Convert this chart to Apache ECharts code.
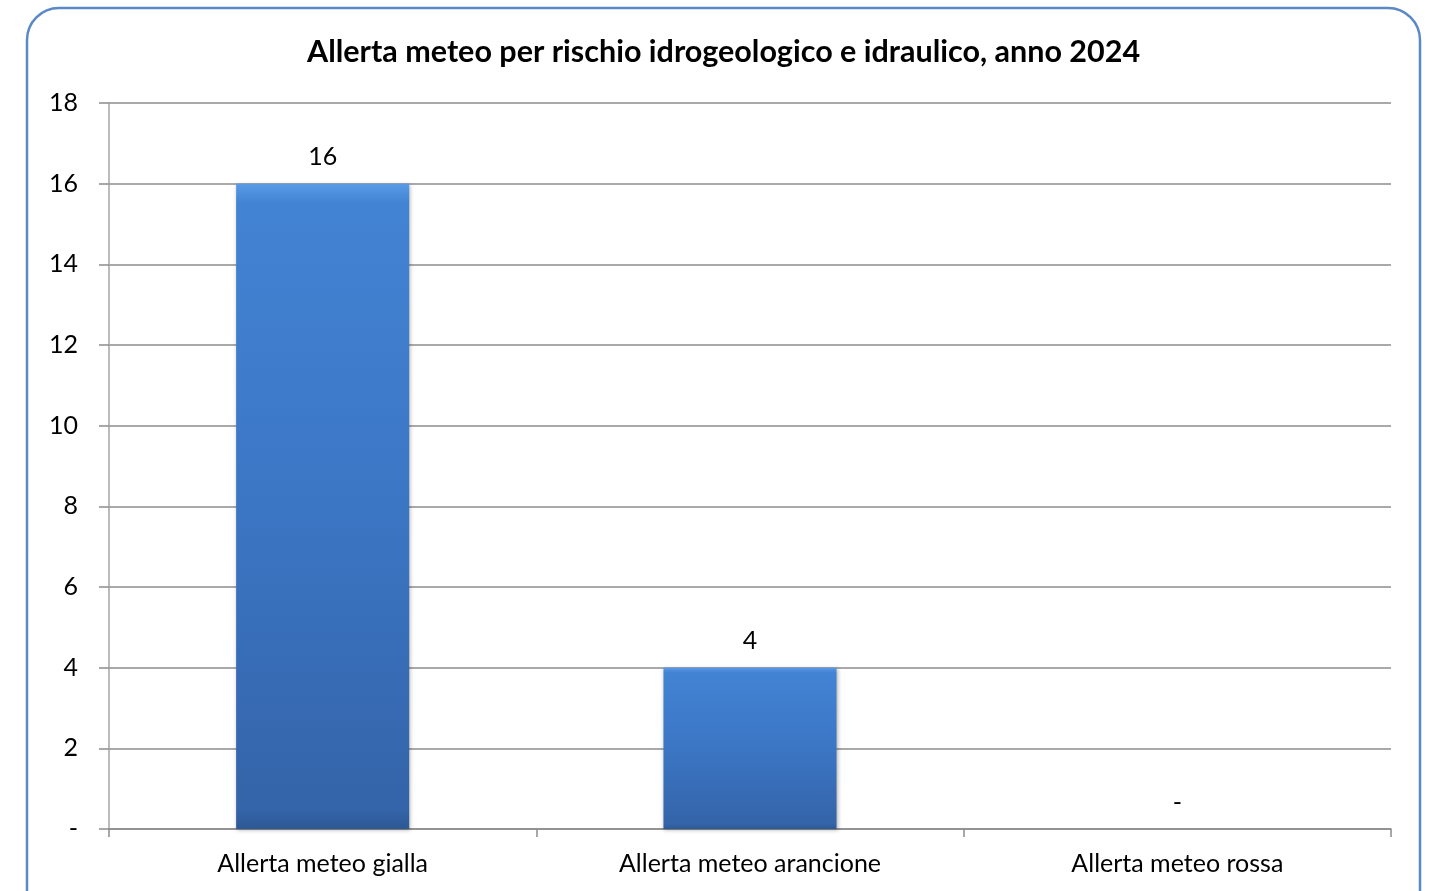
<!DOCTYPE html>
<html>
<head>
<meta charset="utf-8">
<script src="https://cdn.jsdelivr.net/npm/echarts@6/dist/echarts.min.js"></script>
<style>html,body{margin:0;padding:0;background:#fff;}#c{width:1433px;height:891px;}</style>
</head>
<body>
<div id="c"></div>
<script>
const title = 'Allerta meteo per rischio idrogeologico e idraulico, anno 2024';
const categories = ['Allerta meteo gialla', 'Allerta meteo arancione', 'Allerta meteo rossa'];
const values = [16, 4, 0];
const yTicks = [0, 2, 4, 6, 8, 10, 12, 14, 16, 18];

const chart = echarts.init(document.getElementById('c'));
const FONT = 'Lato, "Open Sans", sans-serif';
chart.setOption({
  animation: false,
  backgroundColor: '#fff',
  title: {
    text: title, left: 302, top: 32,
    textStyle: { fontFamily: FONT, fontSize: 30.5, fontWeight: 'bold', color: '#000' }
  },
  graphic: [{
    type: 'rect', silent: true, z: -1,
    shape: { x: 27, y: 8, width: 1393, height: 920, r: 32 },
    style: { fill: 'none', stroke: '#5a89c6', lineWidth: 2.5 }
  }],
  grid: { left: 109, right: 42, top: 103, bottom: 62, containLabel: false },
  xAxis: {
    type: 'category', data: categories,
    axisLine: { lineStyle: { color: '#8c8c8c', width: 1.5 } },
    axisTick: { show: true, length: 8, lineStyle: { color: '#8c8c8c', width: 1.5 } },
    axisLabel: { fontFamily: FONT, fontSize: 25, color: '#000', margin: 22 }
  },
  yAxis: {
    type: 'value', min: 0, max: 18, interval: 2,
    axisLine: { show: true, lineStyle: { color: '#a6a6a6', width: 1.5 } },
    axisTick: { show: true, length: 10, lineStyle: { color: '#8c8c8c', width: 1.5 } },
    splitLine: { lineStyle: { color: '#8c8c8c', width: 1.5 } },
    axisLabel: {
      fontFamily: FONT, fontSize: 25, color: '#000', margin: 31,
      formatter: v => (yTicks.includes(v) ? (v === 0 ? '-' : String(v)) : '')
    }
  },
  series: [{
    type: 'bar', data: values, barWidth: '40.5%',
    itemStyle: {
      color: {
        type: 'linear', x: 0, y: 0, x2: 0, y2: 1,
        colorStops: [
          { offset: 0, color: '#5a9be6' },
          { offset: 0.03, color: '#4383d4' },
          { offset: 0.5, color: '#3b76c4' },
          { offset: 0.97, color: '#3464a9' },
          { offset: 1, color: '#2d5894' }
        ]
      },
      borderWidth: 0,
      shadowColor: 'rgba(0,0,0,0.3)', shadowBlur: 4, shadowOffsetX: 1, shadowOffsetY: 1
    },
    label: {
      show: true, position: 'top', distance: 14,
      fontFamily: FONT, fontSize: 25, color: '#000',
      formatter: p => (p.value === 0 ? '-' : String(p.value))
    }
  }]
});
</script>
</body>
</html>
